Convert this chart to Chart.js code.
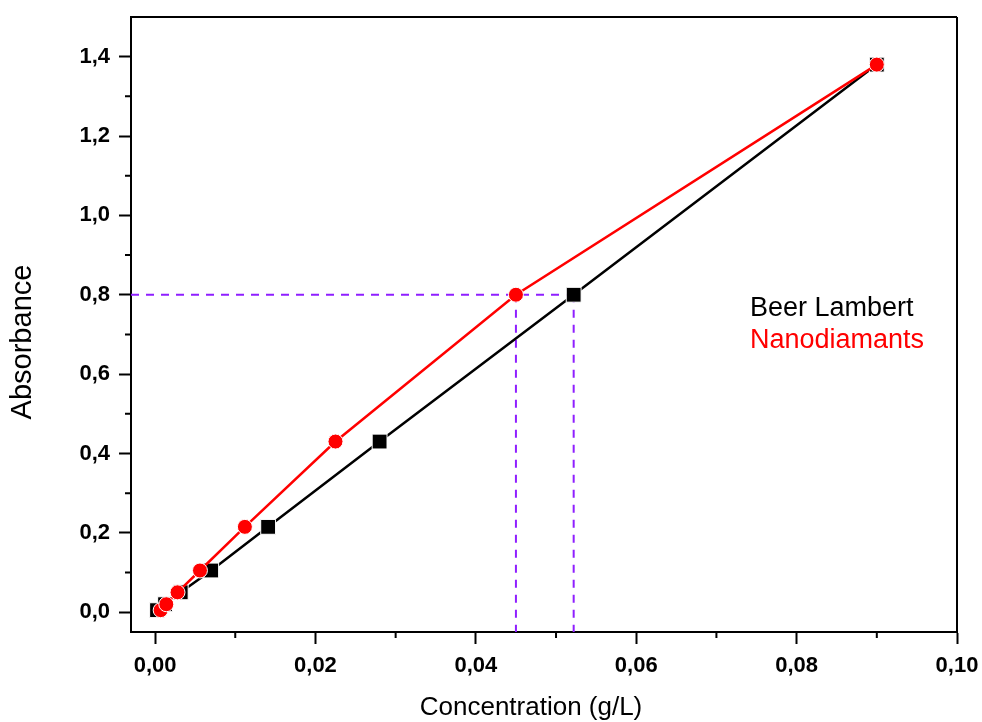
<!DOCTYPE html>
<html lang="fr">
<head>
  <meta charset="UTF-8" />
  <title>Absorbance vs concentration</title>
  <script src="https://cdn.jsdelivr.net/npm/chart.js"></script>
  <style>
    html, body { margin: 0; padding: 0; background: #fff; }
    #wrap { width: 982px; height: 722px; }
  </style>
</head>
<body>
  <div id="wrap"><canvas id="absChart" width="982" height="722"></canvas></div>

  <script>
    // valeurs
    const beerConc = [0.00025, 0.00125, 0.0032, 0.007, 0.0141, 0.028, 0.0522, 0.09];
    const beerAbs  = [0.005, 0.02, 0.05, 0.105, 0.215, 0.43, 0.80, 1.38];
    const nanoConc = [0.0007, 0.0014, 0.0028, 0.0056, 0.0112, 0.0225, 0.045, 0.09];
    const nanoAbs  = [0.005, 0.02, 0.05, 0.105, 0.215, 0.43, 0.80, 1.38];

    const xTicks = [0, 0.02, 0.04, 0.06, 0.08, 0.10];
    const xMinor = [0.01, 0.03, 0.05, 0.07, 0.09];
    const yTicks = [0, 0.2, 0.4, 0.6, 0.8, 1.0, 1.2, 1.4];
    const yMinor = [0.1, 0.3, 0.5, 0.7, 0.9, 1.1, 1.3];

    const xMin = -0.003, xMax = 0.10, yMin = -0.05, yMax = 1.5;
    const refAbs = 0.8;
    const refConc = [0.045, 0.0522];

    const pts = (xs, ys) => xs.map((x, i) => ({ x: x, y: ys[i] }));
    const FONT = "'Liberation Sans', Arial, sans-serif";
    const guide = '#8f1fff';

    const guideSet = data => ({
      data: data, borderColor: guide, borderWidth: 2, borderDash: [8, 7],
      pointRadius: 0, showLine: true, order: 3
    });

    // pas de marge automatique autour des axes
    const noPad = s => { s.paddingLeft = s.paddingRight = s.paddingTop = s.paddingBottom = 0; };

    const decor = {
      id: 'decor',
      afterDraw(chart) {
        const { ctx, chartArea: a, scales: { x, y } } = chart;
        ctx.save();
        ctx.strokeStyle = '#000';
        ctx.lineWidth = 2;
        ctx.beginPath();
        ctx.moveTo(a.left, a.top); ctx.lineTo(a.right, a.top);
        ctx.moveTo(a.right, a.top); ctx.lineTo(a.right, a.bottom);
        xMinor.forEach(v => {
          const px = x.getPixelForValue(v);
          ctx.moveTo(px, a.bottom); ctx.lineTo(px, a.bottom + 6);
        });
        yMinor.forEach(v => {
          const py = y.getPixelForValue(v);
          ctx.moveTo(a.left, py); ctx.lineTo(a.left - 6, py);
        });
        ctx.stroke();

        // titres d'axes
        ctx.fillStyle = '#000';
        ctx.textAlign = 'center';
        ctx.textBaseline = 'middle';
        ctx.font = '26px ' + FONT;
        ctx.fillText('Concentration (g/L)', 531, 708);
        ctx.translate(23, 342);
        ctx.rotate(-Math.PI / 2);
        ctx.font = '29px ' + FONT;
        ctx.fillText('Absorbance', 0, 0);
        ctx.setTransform(1, 0, 0, 1, 0, 0);

        // légende
        ctx.textAlign = 'left';
        ctx.font = '27px ' + FONT;
        ctx.fillStyle = '#000';
        ctx.fillText('Beer Lambert', 750, 309);
        ctx.fillStyle = '#ff0000';
        ctx.fillText('Nanodiamants', 750, 341);
        ctx.restore();
      }
    };

    const ctx = document.getElementById('absChart').getContext('2d');
    new Chart(ctx, {
      type: 'scatter',
      data: {
        datasets: [
          {
            label: 'Nanodiamants',
            data: pts(nanoConc, nanoAbs),
            showLine: true,
            borderColor: '#ff0000',
            borderWidth: 2.5,
            pointStyle: 'circle',
            pointRadius: 7.5,
            pointBackgroundColor: '#ff0000',
            pointBorderColor: '#ffffff',
            pointBorderWidth: 1,
            order: 1
          },
          {
            label: 'Beer Lambert',
            data: pts(beerConc, beerAbs),
            showLine: true,
            borderColor: '#000000',
            borderWidth: 2.5,
            pointStyle: 'rect',
            pointRadius: 10.5,
            pointBackgroundColor: '#000000',
            pointBorderColor: '#ffffff',
            pointBorderWidth: 1,
            order: 2
          },
          guideSet([{ x: xMin, y: refAbs }, { x: refConc[1], y: refAbs }]),
          guideSet([{ x: refConc[0], y: refAbs }, { x: refConc[0], y: yMin }]),
          guideSet([{ x: refConc[1], y: refAbs }, { x: refConc[1], y: yMin }])
        ]
      },
      options: {
        responsive: false,
        animation: false,
        layout: { padding: { top: 17, right: 25, left: 0, bottom: 0 } },
        plugins: { legend: { display: false }, tooltip: { enabled: false } },
        scales: {
          x: {
            type: 'linear', min: xMin, max: xMax,
            afterBuildTicks: s => { s.ticks = xTicks.map(v => ({ value: v })); },
            afterFit: s => { s.height = 90; noPad(s); },
            grid: { drawOnChartArea: false, tickLength: 12, tickWidth: 2, tickColor: '#000' },
            border: { color: '#000', width: 2 },
            ticks: {
              color: '#000', padding: 9, maxRotation: 0,
              font: { family: FONT, size: 22, weight: 'bold' },
              callback: v => v.toFixed(2).replace('.', ',')
            }
          },
          y: {
            type: 'linear', min: yMin, max: yMax,
            afterBuildTicks: s => { s.ticks = yTicks.map(v => ({ value: v })); },
            afterFit: s => { s.width = 131; noPad(s); },
            grid: { drawOnChartArea: false, tickLength: 12, tickWidth: 2, tickColor: '#000' },
            border: { color: '#000', width: 2 },
            ticks: {
              color: '#000', padding: 9,
              font: { family: FONT, size: 22, weight: 'bold' },
              callback: v => v.toFixed(1).replace('.', ',')
            }
          }
        }
      },
      plugins: [decor]
    });
  </script>
</body>
</html>
